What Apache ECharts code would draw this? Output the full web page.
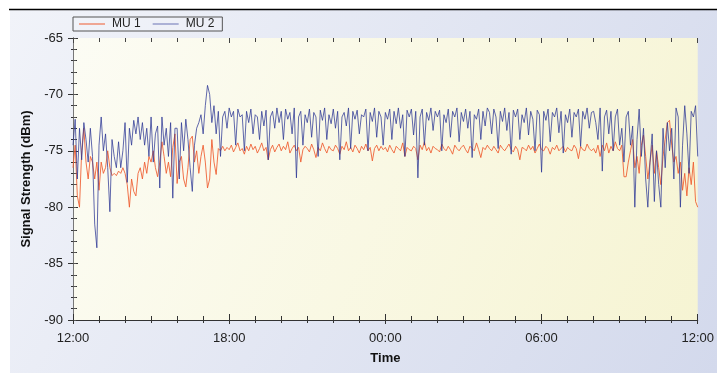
<!DOCTYPE html>
<html>
<head>
<meta charset="utf-8">
<script src="https://cdn.jsdelivr.net/npm/echarts@6/dist/echarts.min.js"></script>
<style>
  html, body { margin: 0; padding: 0; background: #fff; }
  #chart { width: 717px; height: 373px; }
</style>
</head>
<body>
<div id="chart"></div>
<script>
// one sample every 5 minutes, 12:00 -> 12:00 next day (12 values per row = 1 hour)
var mu1 = [
  -76.5, -74.5, -79.0, -80.0, -75.0, -73.0, -76.0, -77.5, -75.5, -76.0, -77.5, -76.0,
  -78.5, -76.0, -77.0, -76.5, -75.0, -76.5, -77.2, -77.0, -77.2, -76.8, -77.0, -76.5,
  -77.0, -78.0, -80.0, -77.5, -78.6, -79.0, -77.0, -76.5, -77.5, -76.0, -77.0, -75.5,
  -76.0, -75.0, -76.5, -77.3, -76.0, -74.2, -75.5, -77.0, -76.0, -77.3, -74.7, -73.5,
  -77.9, -76.0, -75.5, -77.5, -78.2, -76.5, -74.0, -73.7, -76.0, -75.0, -77.0, -75.5,
  -74.5, -76.0, -78.3, -77.5, -74.0, -76.0, -77.1, -74.8, -75.0, -74.6, -75.0, -74.7,
  -74.9, -74.5, -75.1, -74.7, -74.3, -75.0, -74.8, -75.3, -74.6, -75.0, -74.4, -74.9,
  -74.6, -75.2, -74.8, -74.3, -75.0, -74.7, -75.8, -74.9, -74.5, -75.1, -74.7, -74.4,
  -75.0, -74.6, -74.9, -74.2, -75.2, -74.8, -74.5, -75.0, -74.7, -76.0, -74.9, -74.6,
  -74.8, -75.1, -74.4, -74.9, -75.6, -74.7, -75.0, -74.3, -74.8, -75.2, -74.6, -74.9,
  -75.0, -74.5, -74.8, -75.3, -74.6, -74.9, -74.2, -75.0, -74.7, -75.1, -74.5, -74.8,
  -75.2, -74.6, -74.9, -74.4, -75.0, -74.7, -75.9, -74.8, -74.5, -75.0, -74.6, -74.9,
  -74.7, -75.1, -74.5, -74.9, -75.2, -74.6, -74.8, -75.0, -74.3, -75.5, -74.7, -74.9,
  -75.0, -74.6, -74.8, -75.8, -74.5, -74.9, -74.2, -75.0, -74.7, -75.2, -74.6, -74.8,
  -74.9, -75.1, -74.4, -74.8, -75.0, -74.6, -74.9, -75.3, -74.5, -74.8, -75.0, -74.7,
  -74.5, -74.9, -75.2, -74.6, -74.8, -75.0, -74.3, -74.9, -75.6, -74.7, -74.9, -74.5,
  -74.8, -75.0, -74.6, -74.9, -75.2, -74.5, -74.8, -75.0, -74.7, -74.4, -74.9, -75.1,
  -74.6, -74.9, -75.8, -74.7, -74.8, -75.0, -74.5, -74.9, -74.6, -75.2, -74.8, -74.4,
  -74.9, -75.0, -74.6, -74.8, -75.3, -74.7, -74.9, -74.5, -75.0, -74.8, -74.6, -75.1,
  -74.7, -74.9, -75.0, -74.5, -74.8, -75.7, -74.6, -74.9, -75.0, -74.4, -74.8, -75.0,
  -74.8, -75.2, -74.5, -75.5, -74.5, -75.0, -74.3, -75.2, -74.6, -75.0, -74.2, -74.8,
  -75.0, -74.5, -77.3, -77.3, -76.0, -75.0, -74.0, -76.5, -75.5, -77.0, -74.5, -73.6,
  -75.5, -77.5, -76.0, -74.5, -77.0, -75.0, -76.5, -78.0, -75.5, -74.0, -72.5, -72.3,
  -74.5, -76.0, -75.5, -77.0, -76.0, -78.5, -77.0, -79.0, -76.5, -78.0, -76.0, -79.5,
  -80.0
];
var mu2 = [
  -74.5, -72.2, -77.5, -73.0, -75.8, -72.5, -74.0, -76.0, -73.0, -75.5, -81.5, -83.6,
  -74.5, -72.0, -75.0, -73.5, -76.5, -80.4, -74.0, -75.5, -76.5, -74.2, -76.5, -75.0,
  -72.5, -77.8, -73.0, -74.5, -72.3, -73.5, -72.0, -74.0, -72.5, -74.5, -73.0, -75.5,
  -72.0, -76.0, -73.5, -72.8, -78.3, -72.0, -74.5, -73.0, -75.5, -72.5, -79.2, -73.0,
  -73.0, -77.5, -72.5, -75.0, -72.2, -74.0, -76.5, -78.6, -74.5, -73.0, -72.5, -71.8,
  -73.5, -71.0, -69.2, -70.0, -72.5, -71.0, -73.5, -71.5, -75.5, -72.0, -71.5, -73.0,
  -71.2, -72.0, -71.5, -74.5, -71.3, -72.0, -71.8, -75.0, -71.5, -72.5, -71.3, -73.5,
  -71.8, -72.0, -74.0, -71.5, -72.8, -71.4, -75.8, -72.0, -71.5, -73.0, -71.2, -72.5,
  -71.5, -74.0, -71.3, -72.2, -71.6, -73.5, -71.2, -77.4, -72.0, -71.5, -74.5, -71.8,
  -72.5, -71.3, -73.8, -71.6, -72.0, -75.5, -71.4, -72.3, -71.2, -74.0, -71.8, -72.6,
  -71.3, -73.0, -71.5, -75.8, -72.0, -71.6, -72.8, -71.2, -74.8, -71.5, -72.2, -71.4,
  -73.5, -71.8, -72.0, -71.3, -75.0, -71.6, -72.4, -71.2, -73.8, -71.5, -72.0, -74.5,
  -71.6, -72.2, -71.3, -74.0, -71.5, -72.6, -71.2, -73.0, -71.8, -75.5, -71.4, -72.0,
  -71.3, -73.6, -71.5, -77.4, -72.0, -71.3, -74.5, -71.6, -72.3, -71.2, -73.2, -71.5,
  -72.0, -71.4, -75.0, -71.8, -72.5, -71.3, -73.8, -71.5, -72.0, -71.2, -74.2, -71.6,
  -72.4, -71.3, -73.0, -71.5, -75.6, -71.8, -72.2, -71.3, -74.0, -71.5, -72.8, -71.2,
  -71.6, -73.5, -71.3, -72.0, -74.8, -71.5, -72.4, -71.2, -73.2, -71.6, -75.3, -71.4,
  -72.0, -71.3, -74.0, -71.8, -72.5, -71.2, -73.6, -71.5, -72.2, -75.0, -71.4, -71.8,
  -76.9, -71.5, -72.3, -71.3, -74.2, -71.6, -72.0, -71.2, -73.4, -71.5, -75.2, -71.8,
  -72.5, -71.3, -73.8, -71.6, -72.0, -71.3, -74.6, -71.5, -72.2, -71.2, -73.0, -71.6,
  -71.5, -72.5, -74.0, -71.2, -76.8, -72.0, -71.4, -73.5, -71.5, -75.0, -72.0, -71.3,
  -74.5, -73.0, -76.0, -72.0, -71.5, -74.5, -72.8, -80.0, -74.0, -71.3, -75.5, -73.0,
  -77.5, -80.0, -76.0, -73.5, -79.5, -75.0, -78.0, -80.0, -73.0, -76.5, -72.5, -75.0,
  -73.0, -77.5, -71.2, -72.0, -80.0, -74.5, -71.0, -73.5, -77.0, -71.5, -72.0, -71.0,
  -75.5
];
var timeLabels = ['12:00', '18:00', '00:00', '06:00', '12:00'];
var stepMin = 5;

function toPoints(arr) {
  return arr.map(function (v, i) { return [i * stepMin, v]; });
}

var chart = echarts.init(document.getElementById('chart'), null, { renderer: 'canvas' });

var labelStyle = {
  color: '#222',
  fontSize: 13,
  fontFamily: 'Liberation Sans, Arial, sans-serif'
};
var axisLine = { show: true, lineStyle: { color: '#333', width: 1 } };
var red = '#ee5a2e';
var blue = '#2b3594';

var option = {
  animation: false,
  textStyle: { fontFamily: 'Liberation Sans, Arial, sans-serif' },
  graphic: [
    {
      type: 'rect',
      shape: { x: 10, y: 9, width: 707, height: 364 },
      style: {
        fill: new echarts.graphic.LinearGradient(0, 0, 1, 1, [
          { offset: 0, color: '#f1f3f9' },
          { offset: 1, color: '#d3d9ec' }
        ])
      },
      z: -10,
      silent: true
    },
    {
      type: 'line',
      shape: { x1: 9, y1: 9.5, x2: 717, y2: 9.5 },
      style: { stroke: '#000', lineWidth: 1.5 },
      z: 10,
      silent: true
    }
  ],
  legend: {
    left: 73,
    top: 17,
    padding: [1, 8, 1, 6],
    itemGap: 12,
    itemWidth: 26,
    itemHeight: 1,
    icon: 'rect',
    borderColor: '#555',
    borderWidth: 1,
    borderRadius: 0,
    backgroundColor: 'rgba(255,255,255,0.15)',
    textStyle: { color: '#222', fontSize: 12, padding: [0, 0, 0, 2] },
    data: [
      { name: 'MU 1', itemStyle: { color: red } },
      { name: 'MU 2', itemStyle: { color: '#6a72b4' } }
    ]
  },
  grid: {
    left: 73,
    right: 19,
    top: 38,
    bottom: 53,
    show: true,
    borderWidth: 0,
    backgroundColor: new echarts.graphic.LinearGradient(0, 0, 1, 1, [
      { offset: 0, color: '#fcfcf4' },
      { offset: 1, color: '#f6f4d3' }
    ])
  },
  xAxis: [
    {
      type: 'value',
      min: 0,
      max: 1440,
      interval: 360,
      position: 'bottom',
      name: 'Time',
      nameLocation: 'middle',
      nameGap: 32,
      nameTextStyle: { fontWeight: 'bold', fontSize: 13, color: '#111' },
      axisLine: axisLine,
      axisTick: { show: true, inside: false, length: 4, lineStyle: { color: '#333' } },
      minorTick: { show: true, splitNumber: 6, length: 3, lineStyle: { color: '#333' } },
      axisLabel: Object.assign({
        margin: 12,
        formatter: function (v) { return timeLabels[Math.round(v / 360)]; }
      }, labelStyle),
      splitLine: { show: false }
    },
    {
      type: 'value',
      min: 0,
      max: 1440,
      interval: 360,
      position: 'bottom',
      axisLine: { show: false },
      axisTick: { show: true, inside: true, length: 6, lineStyle: { color: '#333' } },
      minorTick: { show: true, splitNumber: 6, length: 4, lineStyle: { color: '#333' } },
      axisLabel: { show: false },
      splitLine: { show: false }
    },
    {
      type: 'value',
      min: 0,
      max: 1440,
      interval: 360,
      position: 'top',
      axisLine: { show: false },
      axisTick: { show: true, inside: true, length: 5, lineStyle: { color: '#444' } },
      minorTick: { show: true, splitNumber: 6, length: 4, lineStyle: { color: '#444' } },
      axisLabel: { show: false },
      splitLine: { show: false }
    }
  ],
  yAxis: [
    {
      type: 'value',
      min: -90,
      max: -65,
      interval: 5,
      position: 'left',
      name: 'Signal Strength (dBm)',
      nameLocation: 'middle',
      nameGap: 40,
      nameTextStyle: { fontWeight: 'bold', fontSize: 13, color: '#111' },
      axisLine: axisLine,
      axisTick: { show: true, inside: false, length: 5, lineStyle: { color: '#333' } },
      minorTick: { show: true, splitNumber: 5, length: 2, lineStyle: { color: '#333' } },
      axisLabel: Object.assign({ margin: 10 }, labelStyle),
      splitLine: { show: false }
    },
    {
      type: 'value',
      min: -90,
      max: -65,
      interval: 5,
      position: 'left',
      axisLine: { show: false },
      axisTick: { show: true, inside: true, length: 5, lineStyle: { color: '#333' } },
      minorTick: { show: true, splitNumber: 5, length: 4, lineStyle: { color: '#333' } },
      axisLabel: { show: false },
      splitLine: { show: false }
    },
    {
      type: 'value',
      min: -90,
      max: -65,
      interval: 5,
      position: 'right',
      axisLine: { show: true, lineStyle: { color: '#777' } },
      axisTick: { show: true, inside: false, length: 3, lineStyle: { color: '#555' } },
      minorTick: { show: true, splitNumber: 5, length: 3, lineStyle: { color: '#555' } },
      axisLabel: { show: false },
      splitLine: { show: false }
    }
  ],
  series: [
    {
      name: 'MU 1',
      type: 'line',
      data: toPoints(mu1),
      showSymbol: false,
      symbol: 'none',
      itemStyle: { color: red },
      lineStyle: { width: 1, color: red, opacity: 0.85 },
      sampling: null
    },
    {
      name: 'MU 2',
      type: 'line',
      data: toPoints(mu2),
      showSymbol: false,
      symbol: 'none',
      itemStyle: { color: blue },
      lineStyle: { width: 1, color: blue, opacity: 0.75 },
      sampling: null
    }
  ]
};
chart.setOption(option);
</script>
</body>
</html>
